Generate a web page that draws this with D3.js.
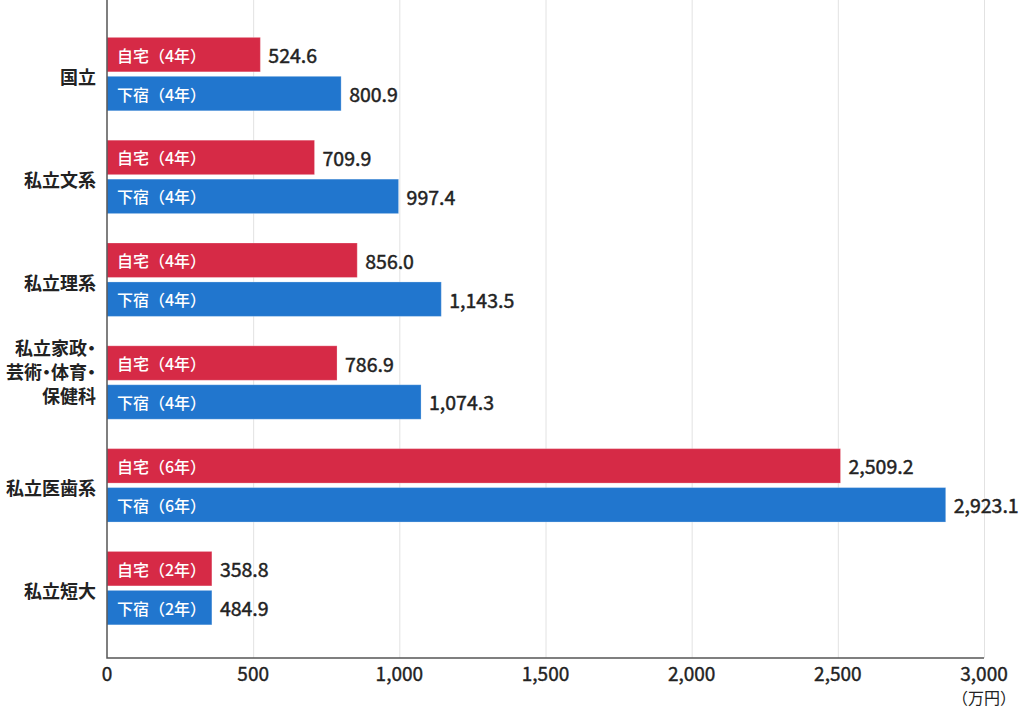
<!DOCTYPE html>
<html>
  <head>
    <meta charset="utf-8">
    <title>学費 国立・私立</title>
    <script src="https://d3js.org/d3.v7.min.js"></script>
    <style>
      body { margin: 0; background: #fff; }
      svg text { font-family: "Noto Sans CJK JP", "Noto Sans", sans-serif; }
      .grid line { stroke: #e2e2e2; stroke-width: 1; }
      .axis path, .axis line { stroke: #555; stroke-width: 1.5; }
      .cat { font-size: 18px; font-weight: 700; fill: #222; font-feature-settings: "palt"; }
      .tick-label { font-size: 19px; font-weight: 400; fill: #222; stroke: #222; stroke-width: 0.4px; }
      .value { font-size: 19.5px; font-weight: 400; fill: #222; stroke: #222; stroke-width: 0.45px; }
      .inner { font-size: 16px; font-weight: 500; fill: #fff; }
      .unit { font-size: 16px; fill: #222; }
    </style>
  </head>
  <body>
    <svg width="1024" height="714"></svg>
    <script>
      // categories (line breaks kept as arrays)
      const categories = ["国立", "私立文系", "私立理系", "私立家政", "私立医歯系", "私立短大"];
      const categoryLines = [
        ["国立"], ["私立文系"], ["私立理系"],
        ["私立家政・", "芸術・体育・", "保健科"],
        ["私立医歯系"], ["私立短大"]
      ];
      const years = [4, 4, 4, 4, 6, 2];

      // printed values (万円)
      const jitaku = [524.6, 709.9, 856.0, 786.9, 2509.2, 358.8];
      const geshuku = [800.9, 997.4, 1143.5, 1074.3, 2923.1, 484.9];
      // bar lengths as drawn in the picture (two bars do not match their label)
      const jitakuBar = [524.6, 709.9, 856.0, 786.9, 2509.2, 358.8];
      const geshukuBar = [800.9, 997.4, 1143.5, 1074.3, 2869, 358.8];

      const xTicks = [0, 500, 1000, 1500, 2000, 2500, 3000];
      const series = ["自宅", "下宿"];
      const colors = { "自宅": "#d62a46", "下宿": "#2176ce" };

      const rows = categories.map((c, i) => ({
        cat: c,
        lines: categoryLines[i],
        bars: [
          { s: "自宅", bar: jitakuBar[i], value: jitaku[i], yrs: years[i] },
          { s: "下宿", bar: geshukuBar[i], value: geshuku[i], yrs: years[i] }
        ]
      }));

      const svg = d3.select("svg");
      const plotLeft = 107, plotRight = 984, plotTop = 0, plotBottom = 658;

      const x = d3.scaleLinear().domain([0, 3000]).range([plotLeft, plotRight]);
      const y = d3.scaleBand()
        .domain(categories)
        .range([plotTop, plotBottom])
        .paddingInner(0.286)
        .paddingOuter(0.343)
        .align(0.53);
      const ySub = d3.scaleBand()
        .domain(series)
        .range([0, y.bandwidth()])
        .paddingInner(0.115);

      const fmt = d3.format(",.1f");
      const tickFmt = d3.format(",");

      // grid
      svg.append("g")
        .attr("class", "grid")
        .selectAll("line")
        .data(xTicks.slice(1))
        .join("line")
          .attr("x1", d => x(d) + 0.5)
          .attr("x2", d => x(d) + 0.5)
          .attr("y1", plotTop)
          .attr("y2", plotBottom);

      // bars
      const groups = svg.append("g")
        .selectAll("g")
        .data(rows)
        .join("g")
          .attr("transform", d => `translate(0, ${y(d.cat)})`);

      const barG = groups.selectAll("g")
        .data(d => d.bars)
        .join("g")
          .attr("transform", d => `translate(0, ${ySub(d.s)})`);

      barG.append("rect")
        .attr("x", x(0))
        .attr("width", d => x(d.bar) - x(0))
        .attr("height", ySub.bandwidth())
        .attr("fill", d => colors[d.s])
        .attr("stroke", "#fff")
        .attr("stroke-opacity", 0.25)
        .attr("stroke-width", 1);

      barG.append("text")
        .attr("class", "inner")
        .attr("x", x(0) + 10)
        .attr("y", ySub.bandwidth() / 2)
        .attr("dominant-baseline", "central")
        .text(d => `${d.s}（${d.yrs}年）`);

      barG.append("text")
        .attr("class", "value")
        .attr("x", d => x(d.bar) + 8)
        .attr("y", ySub.bandwidth() / 2)
        .attr("dominant-baseline", "central")
        .text(d => fmt(d.value));

      // category labels
      const cat = svg.append("g")
        .selectAll("text")
        .data(rows)
        .join("text")
          .attr("class", "cat")
          .attr("text-anchor", "end")
          .attr("x", plotLeft - 11)
          .attr("y", d => y(d.cat) + y.bandwidth() / 2 + 2);

      cat.selectAll("tspan")
        .data(d => d.lines.map((t, i) => ({ t, i, n: d.lines.length })))
        .join("tspan")
          .attr("x", plotLeft - 11)
          .attr("dy", d => d.i === 0 ? (d.n > 1 ? -(d.n - 1) * 12 - 14 : 0) : 24)
          .attr("dominant-baseline", "central")
          .text(d => d.t);

      // axes
      svg.append("g")
        .attr("class", "axis")
        .append("path")
          .attr("d", `M${plotLeft},${plotTop}V${plotBottom}H${plotRight}`)
          .attr("fill", "none");

      svg.append("g")
        .selectAll("text")
        .data(xTicks)
        .join("text")
          .attr("class", "tick-label")
          .attr("x", d => x(d))
          .attr("y", plotBottom + 14)
          .attr("text-anchor", "middle")
          .attr("dominant-baseline", "central")
          .text(d => tickFmt(d));

      svg.append("text")
        .attr("class", "unit")
        .attr("x", x(3000))
        .attr("y", plotBottom + 39)
        .attr("text-anchor", "middle")
        .attr("dominant-baseline", "central")
        .text("（万円）");
    </script>
  </body>
</html>
